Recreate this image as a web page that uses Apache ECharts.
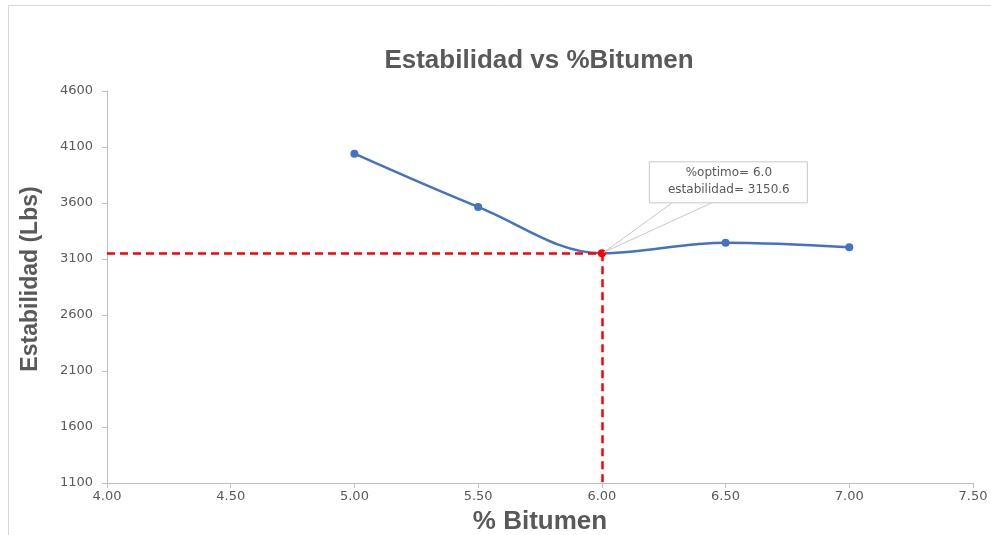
<!DOCTYPE html>
<html>
<head>
<meta charset="utf-8">
<script src="https://cdn.jsdelivr.net/npm/echarts@6/dist/echarts.min.js"></script>
<style>
  html, body { margin: 0; padding: 0; background: #ffffff; }
  #chart { width: 991px; height: 535px; }
</style>
</head>
<body>
<div id="chart"></div>
<script>
// Stability (Marshall) versus bitumen content
const bitumen = [5.0, 5.5, 6.0, 6.5, 7.0];
const estabilidad = [4040, 3565, 3150.6, 3245, 3205];

// Optimum bitumen content and its stability
const optimoBitumen = 6.0;
const optimoEstabilidad = 3150.6;

const xTicks = { min: 4.0, max: 7.5, step: 0.5 };
const yTicks = { min: 1100, max: 4600, step: 500 };

const gray = '#595959';
const blue = '#4472C4';
const tickFont = 'DejaVu Sans';

const chart = echarts.init(document.getElementById('chart'), null, { renderer: 'canvas' });

const points = bitumen.map((b, i) => {
  const item = { value: [b, estabilidad[i]] };
  if (b === optimoBitumen) item.itemStyle = { color: '#ff0000' };
  return item;
});

chart.setOption({
  animation: false,
  backgroundColor: '#ffffff',
  title: {
    text: 'Estabilidad vs %Bitumen',
    left: 534,
    textAlign: 'center',
    top: 43,
    textStyle: { fontFamily: 'Liberation Sans', fontSize: 26, fontWeight: 'bold', color: gray }
  },
  grid: { left: 107, right: 18, top: 91, bottom: 52, outerBoundsMode: 'none', containLabel: false },
  xAxis: {
    type: 'value',
    min: xTicks.min, max: xTicks.max, interval: xTicks.step,
    name: '% Bitumen',
    nameLocation: 'middle',
    nameGap: 26,
    nameTextStyle: { fontFamily: 'Liberation Sans', fontSize: 26, fontWeight: 'bold', color: gray },
    axisLine: { lineStyle: { color: '#bfbfbf', width: 1 } },
    axisTick: { show: true, length: 5, lineStyle: { color: '#bfbfbf' } },
    axisLabel: { color: gray, fontFamily: tickFont, fontSize: 13, margin: 7,
      formatter: v => v.toFixed(2) },
    splitLine: { show: false }
  },
  yAxis: {
    type: 'value',
    min: yTicks.min, max: yTicks.max, interval: yTicks.step,
    name: 'Estabilidad (Lbs)',
    nameLocation: 'middle',
    nameGap: 65,
    nameRotate: 90,
    nameTextStyle: { fontFamily: 'Liberation Sans', fontSize: 23, fontWeight: 'bold', color: gray,
      padding: [0, 0, 0, 16] },
    axisLine: { show: true, lineStyle: { color: '#bfbfbf', width: 1 } },
    axisTick: { show: true, length: 5, lineStyle: { color: '#bfbfbf' } },
    axisLabel: { color: gray, fontFamily: tickFont, fontSize: 13, margin: 14,
      formatter: v => String(v) },
    splitLine: { show: false }
  },
  series: [{
    type: 'line',
    data: points,
    smooth: 0.35,
    symbol: 'circle',
    symbolSize: 8,
    lineStyle: { color: blue, width: 2.5 },
    itemStyle: { color: blue },
    z: 3,
    markLine: {
      silent: true,
      symbol: 'none',
      animation: false,
      lineStyle: { color: '#ff0000', type: [8, 5], width: 2.5 },
      label: { show: false },
      data: [
        [ { coord: [xTicks.min, optimoEstabilidad] }, { coord: [optimoBitumen, optimoEstabilidad] } ],
        [ { coord: [optimoBitumen, optimoEstabilidad] }, { coord: [optimoBitumen, yTicks.min] } ]
      ]
    }
  }]
});

// Callout box with the optimum values, anchored to the optimum point
function drawCallout() {
  const p = chart.convertToPixel({ gridIndex: 0 }, [optimoBitumen, optimoEstabilidad]);
  const boxX = p[0] + 47, boxY = p[1] - 92, boxW = 158, boxH = 41;
  chart.setOption({
    graphic: [
      {
        type: 'rect', silent: true,
        shape: { x: 8.5, y: 5.5, width: 1000, height: 560 },
        style: { fill: 'none', stroke: '#d9d9d9', lineWidth: 1 }
      },
      {
        type: 'polyline', silent: true, z: 10,
        shape: { points: [[boxX + 24, boxY + boxH], [p[0] + 2, p[1] - 1], [boxX + 64, boxY + boxH]] },
        style: { fill: 'none', stroke: '#c8c8c8', lineWidth: 1 }
      },
      {
        type: 'rect', silent: true, z: 11,
        shape: { x: boxX + 0.5, y: boxY + 0.5, width: boxW, height: boxH },
        style: { fill: '#ffffff', stroke: '#c8c8c8', lineWidth: 1 }
      },
      {
        type: 'text', silent: true, z: 12,
        x: boxX + boxW / 2 + 1, y: boxY + 12,
        style: {
          text: '%optimo= ' + optimoBitumen.toFixed(1),
          fill: gray, font: '12px "DejaVu Sans"', align: 'center', verticalAlign: 'middle'
        }
      },
      {
        type: 'text', silent: true, z: 12,
        x: boxX + boxW / 2 + 1, y: boxY + 29,
        style: {
          text: 'estabilidad= ' + optimoEstabilidad.toFixed(1),
          fill: gray, font: '12px "DejaVu Sans"', align: 'center', verticalAlign: 'middle'
        }
      }
    ]
  });
}
drawCallout();
</script>
</body>
</html>
